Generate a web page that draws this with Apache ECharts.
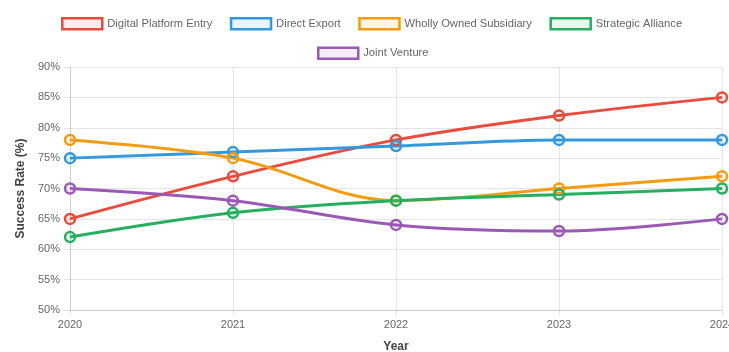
<!DOCTYPE html>
<html>
<head>
<meta charset="utf-8">
<script src="https://cdn.jsdelivr.net/npm/echarts@6/dist/echarts.min.js"></script>
<style>
html,body{margin:0;padding:0;background:#fff;}
#chart{width:729px;height:352px;}
</style>
</head>
<body>
<div id="chart"></div>
<script>
const years = ['2020', '2021', '2022', '2023', '2024'];
const digitalPlatformEntry = [65, 72, 78, 82, 85];
const directExport = [75, 76, 77, 78, 78];
const whollyOwnedSubsidiary = [78, 75, 68, 70, 72];
const strategicAlliance = [62, 66, 68, 69, 70];
const jointVenture = [70, 68, 64, 63, 65];
const yTicks = [50, 55, 60, 65, 70, 75, 80, 85, 90];

const seriesDefs = [
  {name: 'Digital Platform Entry', data: digitalPlatformEntry, rgb: [231, 76, 60]},
  {name: 'Direct Export', data: directExport, rgb: [52, 152, 219]},
  {name: 'Wholly Owned Subsidiary', data: whollyOwnedSubsidiary, rgb: [243, 156, 18]},
  {name: 'Strategic Alliance', data: strategicAlliance, rgb: [39, 174, 96]},
  {name: 'Joint Venture', data: jointVenture, rgb: [155, 89, 182]}
];
const solid = d => `rgb(${d.rgb.join(',')})`;
const faint = d => `rgba(${d.rgb.join(',')},0.1)`;

const legendItem = d => ({
  name: d.name,
  icon: 'rect',
  itemStyle: {color: faint(d), borderColor: solid(d), borderWidth: 2.5}
});
const FONT = 'Liberation Sans, Arial, sans-serif';
const legendBase = {
  itemWidth: 40, itemHeight: 11, itemGap: 17.5,
  textStyle: {color: '#666', fontSize: 11.2, fontFamily: FONT}
};

const chart = echarts.init(document.getElementById('chart'), null, {renderer: 'canvas'});
const gridColor = 'rgba(0,0,0,0.1)';
chart.setOption({
  animation: false,
  legend: [
    Object.assign({data: seriesDefs.slice(0, 4).map(legendItem), top: 12, left: 56}, legendBase),
    Object.assign({data: seriesDefs.slice(4).map(legendItem), top: 41.5, left: 312}, legendBase)
  ],
  grid: {left: 70, right: 7, top: 67, bottom: 42, containLabel: false, outerBoundsMode: 'none'},
  xAxis: {
    type: 'category',
    data: years,
    boundaryGap: false,
    name: 'Year',
    nameLocation: 'middle',
    nameGap: 31,
    nameTextStyle: {color: '#444', fontSize: 12, fontWeight: 'bold', fontFamily: FONT},
    axisLine: {show: true, lineStyle: {color: gridColor}},
    axisTick: {show: true, length: 5, lineStyle: {color: gridColor}},
    axisLabel: {color: '#666', fontSize: 11, margin: 9, fontFamily: FONT},
    splitLine: {show: true, lineStyle: {color: gridColor}}
  },
  yAxis: {
    type: 'value',
    min: yTicks[0],
    max: yTicks[yTicks.length - 1],
    interval: 5,
    name: 'Success Rate (%)',
    nameLocation: 'middle',
    nameGap: 38,
    nameTextStyle: {color: '#444', fontSize: 12, fontWeight: 'bold', fontFamily: FONT},
    axisLine: {show: true, lineStyle: {color: gridColor}},
    axisTick: {show: true, length: 6, lineStyle: {color: gridColor}},
    axisLabel: {color: '#666', fontSize: 11, margin: 10, formatter: '{value}%', fontFamily: FONT},
    splitLine: {show: true, lineStyle: {color: gridColor}}
  },
  series: seriesDefs.map(d => ({
    name: d.name,
    type: 'line',
    data: d.data,
    smooth: 0.35,
    symbol: 'circle',
    symbolSize: 10,
    lineStyle: {color: solid(d), width: 3},
    itemStyle: {color: faint(d), borderColor: solid(d), borderWidth: 2.5},
    emphasis: {disabled: true}
  }))
});
</script>
</body>
</html>
